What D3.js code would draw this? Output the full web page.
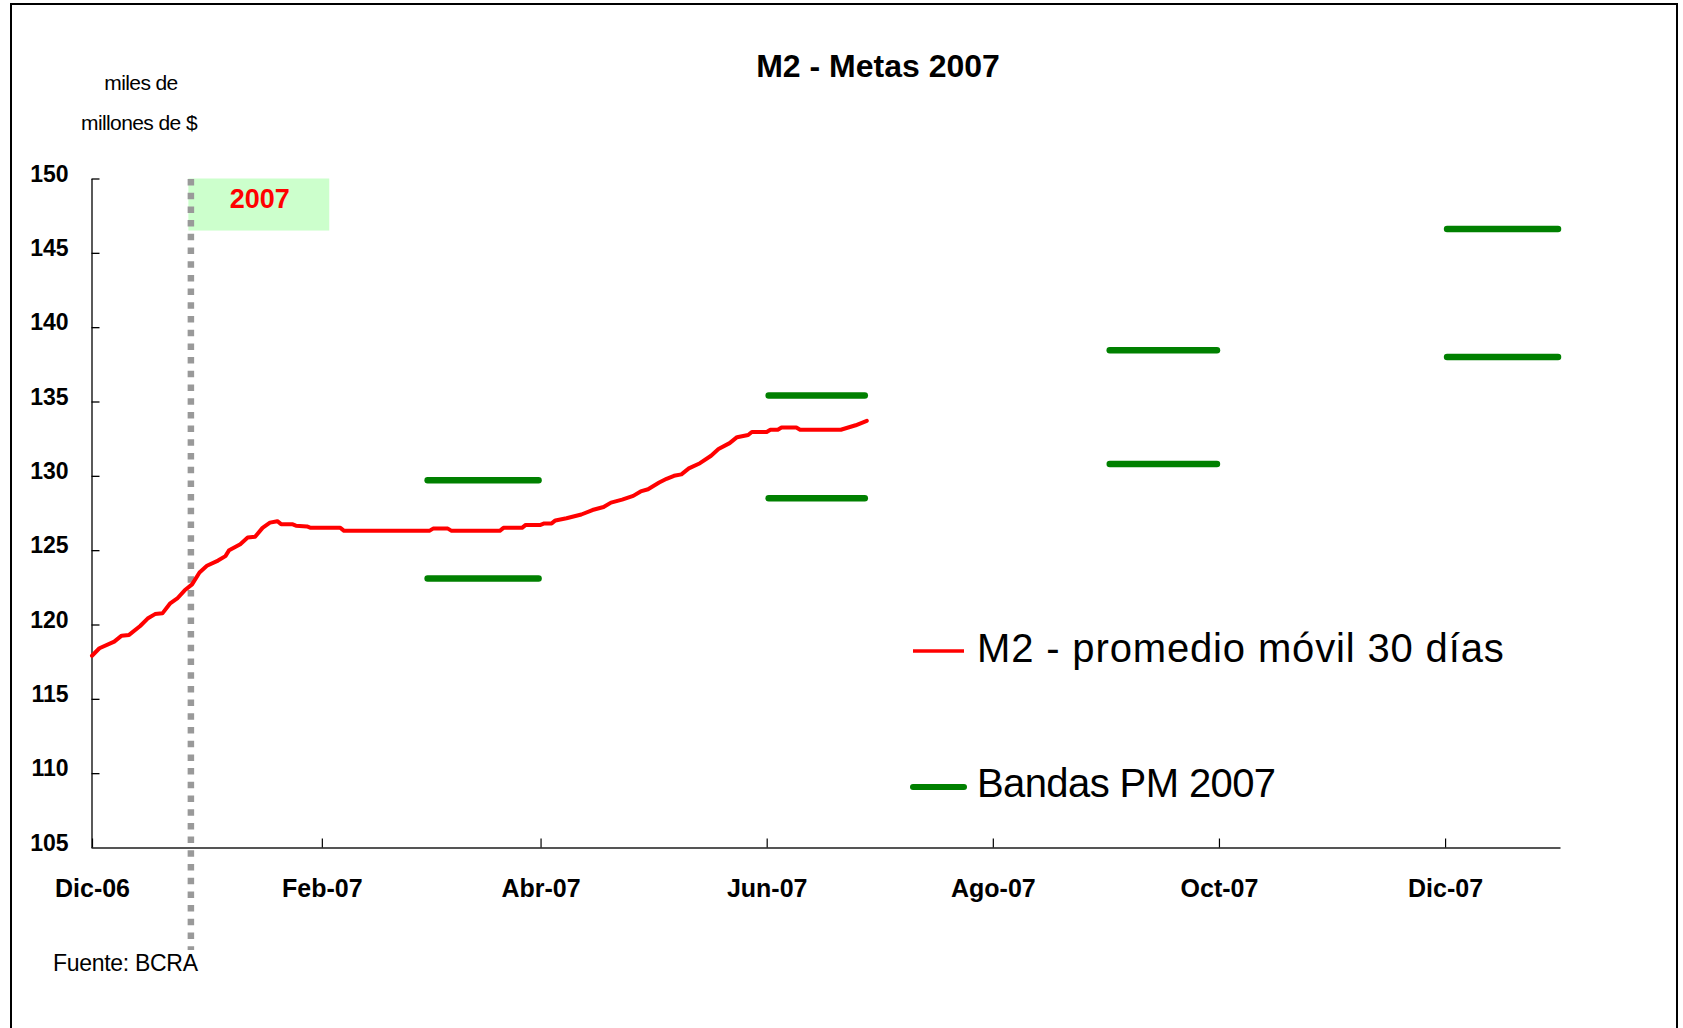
<!DOCTYPE html>
<html>
<head>
<meta charset="utf-8">
<script src="https://cdn.jsdelivr.net/npm/d3@7"></script>
<style>
  html, body { margin: 0; padding: 0; background: #ffffff; }
  svg { display: block; }
  text { font-family: "Liberation Sans", Arial, sans-serif; }
</style>
</head>
<body>
<svg id="chart" width="1683" height="1028"></svg>
<script>
// ---------------- DATA ----------------
const title = "M2 - Metas 2007";
const unitLine1 = "miles de";
const unitLine2 = "millones de $";
const sourceText = "Fuente: BCRA";
const yearLabel = "2007";

const m2Dates = [
  "2006-12-01","2006-12-03","2006-12-07","2006-12-09","2006-12-11","2006-12-14","2006-12-16",
  "2006-12-18","2006-12-20","2006-12-22","2006-12-24","2006-12-26","2006-12-28","2006-12-30",
  "2007-01-01","2007-01-04","2007-01-06","2007-01-07","2007-01-10","2007-01-12","2007-01-14",
  "2007-01-16","2007-01-18","2007-01-20","2007-01-21","2007-01-24","2007-01-25","2007-01-28",
  "2007-01-29","2007-02-06","2007-02-07","2007-03-02","2007-03-03","2007-03-07","2007-03-08",
  "2007-03-21","2007-03-22","2007-03-27","2007-03-28","2007-04-01","2007-04-02","2007-04-04",
  "2007-04-05","2007-04-08","2007-04-12","2007-04-15","2007-04-18","2007-04-20","2007-04-23",
  "2007-04-26","2007-04-28","2007-04-30","2007-05-03","2007-05-05","2007-05-07","2007-05-09",
  "2007-05-11","2007-05-14","2007-05-17","2007-05-19","2007-05-22","2007-05-24","2007-05-27",
  "2007-05-28","2007-06-01","2007-06-02","2007-06-04","2007-06-05","2007-06-09","2007-06-10",
  "2007-06-21","2007-06-23","2007-06-25","2007-06-28"
];
const m2Values = [
  117.9,118.4,118.85,119.25,119.3,119.9,120.4,
  120.7,120.75,121.4,121.75,122.3,122.7,123.5,
  123.95,124.3,124.6,125.0,125.4,125.85,125.9,
  126.5,126.85,126.95,126.75,126.75,126.65,126.6,
  126.5,126.5,126.3,126.3,126.45,126.45,126.3,
  126.3,126.5,126.5,126.7,126.7,126.8,126.8,
  127.0,127.15,127.4,127.7,127.9,128.2,128.4,
  128.65,128.95,129.1,129.55,129.8,130.0,130.1,
  130.5,130.85,131.35,131.8,132.2,132.6,132.75,
  132.95,132.95,133.1,133.1,133.25,133.25,133.1,
  133.1,133.25,133.4,133.7
];

const bandStart = ["2007-03-01","2007-06-01","2007-09-01","2007-12-01"];
const bandEnd   = ["2007-04-01","2007-06-28","2007-10-01","2008-01-01"];
const bandUpper = [129.7, 135.4, 138.45, 146.6];
const bandLower = [123.1, 128.5, 130.8, 138.0];

const xTickDates  = ["2006-12-01","2007-02-01","2007-04-01","2007-06-01","2007-08-01","2007-10-01","2007-12-01"];
const xTickLabels = ["Dic-06","Feb-07","Abr-07","Jun-07","Ago-07","Oct-07","Dic-07"];
const yTicks = [105,110,115,120,125,130,135,140,145,150];
const xDomain = ["2006-12-01","2008-01-01"];
const yDomain = [105,150];

const yearStartMarker = "2006-12-27";   // vertical dotted separator
const yearBoxEnd = "2007-02-03";
const yearBoxBottom = 146.5;

const legendLabels = ["M2 - promedio móvil 30 días","Bandas PM 2007"];
const legendColors = ["#ff0000","#008000"];

// ---------------- DRAW ----------------
const parse = d3.timeParse("%Y-%m-%d");
const svg = d3.select("#chart");

const x = d3.scaleTime().domain(xDomain.map(parse)).range([92, 1560]);
const y = d3.scaleLinear().domain(yDomain).range([847.5, 178.5]);

// frame
svg.append("rect").attr("x",11).attr("y",4).attr("width",1666).attr("height",1060)
  .attr("fill","none").attr("stroke","#000").attr("stroke-width",2);

// title
svg.append("text").attr("x",878).attr("y",77).attr("text-anchor","middle")
  .attr("font-size",32).attr("font-weight","bold").attr("fill","#000").text(title);

// unit label
svg.append("text").attr("x",141).attr("y",90).attr("text-anchor","middle")
  .attr("font-size",21).attr("letter-spacing",-0.6).text(unitLine1);
svg.append("text").attr("x",139).attr("y",130).attr("text-anchor","middle")
  .attr("font-size",21).attr("letter-spacing",-0.6).text(unitLine2);

// year box
const markerDate = parse(yearStartMarker);
svg.append("rect")
  .attr("x", x(markerDate)).attr("y", y(150))
  .attr("width", x(parse(yearBoxEnd)) - x(markerDate))
  .attr("height", y(yearBoxBottom) - y(150))
  .attr("fill","#ccffcc");
svg.append("text")
  .attr("x", (x(markerDate) + x(parse(yearBoxEnd))) / 2 + 1).attr("y", 208)
  .attr("text-anchor","middle").attr("font-size",27).attr("font-weight","bold")
  .attr("fill","#ff0000").text(yearLabel);

// y axis
const yAxis = d3.axisLeft(y).tickValues(yTicks).tickSize(-8).tickSizeOuter(0).tickPadding(23)
  .tickFormat(d3.format("d"));
const gy = svg.append("g").attr("transform","translate(91.5,0)").call(yAxis);
gy.select(".domain").attr("stroke","#000").attr("stroke-width",1.3);
gy.selectAll(".tick line").attr("stroke","#000").attr("stroke-width",1.3);
gy.selectAll(".tick text").attr("dy",0).attr("y",2.5)
  .attr("font-size",23).attr("font-weight","bold").attr("fill","#000")
  .attr("font-family","'Liberation Sans', Arial, sans-serif");

// x axis
const xAxis = d3.axisBottom(x).tickValues(xTickDates.map(parse)).tickSize(-9).tickSizeOuter(0)
  .tickFormat((d,i) => xTickLabels[i]);
const gx = svg.append("g").attr("transform","translate(0,847.5)").call(xAxis);
gx.select(".domain").attr("stroke","#555").attr("stroke-width",2);
gx.selectAll(".tick line").attr("stroke","#000").attr("stroke-width",1.2);
gx.selectAll(".tick text").attr("dy",0).attr("y",49)
  .attr("font-size",25).attr("font-weight","bold").attr("fill","#000")
  .attr("font-family","'Liberation Sans', Arial, sans-serif");

// dotted separator
svg.append("line")
  .attr("x1", x(markerDate)+2.5).attr("x2", x(markerDate)+2.5)
  .attr("y1", 179).attr("y2", 950)
  .attr("stroke","#999999").attr("stroke-width",6.5).attr("stroke-dasharray","6.5,7.2");

// source
svg.append("text").attr("x",53).attr("y",971).attr("font-size",23).attr("letter-spacing",-0.3)
  .attr("fill","#000").text(sourceText);

// bands
const bands = bandStart.map((s,i) => ({s: parse(s), e: parse(bandEnd[i]), up: bandUpper[i], lo: bandLower[i]}));
const gb = svg.append("g");
bands.forEach(b => {
  [b.up, b.lo].forEach(v => {
    gb.append("line").attr("x1", x(b.s)+2).attr("x2", x(b.e)-2)
      .attr("y1", y(v)).attr("y2", y(v))
      .attr("stroke","#008000").attr("stroke-width",6.5).attr("stroke-linecap","round");
  });
});

// M2 line
const m2 = m2Dates.map((d,i) => ({date: parse(d), value: m2Values[i]}));
svg.append("path").datum(m2)
  .attr("d", d3.line().x(d => x(d.date)).y(d => y(d.value)))
  .attr("fill","none").attr("stroke","#ff0000").attr("stroke-width",4)
  .attr("stroke-linejoin","round").attr("stroke-linecap","round");

// legend
const legY = [651, 787];
const legTextY = [662, 797];
legendLabels.forEach((lab,i) => {
  svg.append("line").attr("x1", 913).attr("x2", 964).attr("y1", legY[i]).attr("y2", legY[i])
    .attr("stroke", legendColors[i]).attr("stroke-width", i === 0 ? 3.5 : 6)
    .attr("stroke-linecap", i === 0 ? "butt" : "round");
  svg.append("text").attr("x", 977).attr("y", legTextY[i]).attr("font-size",40)
    .attr("letter-spacing", i === 0 ? 0.85 : -0.6)
    .attr("fill","#000").text(lab);
});
</script>
</body>
</html>
